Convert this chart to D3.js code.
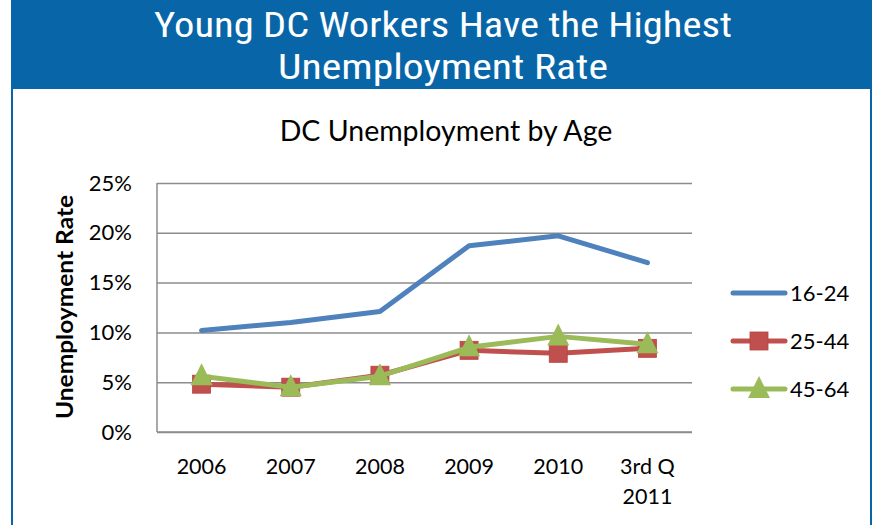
<!DOCTYPE html>
<html>
<head>
<meta charset="utf-8">
<script src="https://cdn.jsdelivr.net/npm/d3@7"></script>
<style>
  html, body { margin: 0; padding: 0; background: #fff; }
  svg { display: block; }
</style>
</head>
<body>
<svg id="chart" width="872" height="525"></svg>
<script>
// Categories (x axis) — the last one wraps onto two lines
const categories = ["2006", "2007", "2008", "2009", "2010", "3rd Q\n2011"];

// Unemployment rate by age group, in percent
const youth = [10.2, 11.0, 12.1, 18.7, 19.7, 17.0];      // 16-24
const primeAge = [4.8, 4.5, 5.7, 8.2, 7.9, 8.4];          // 25-44
const olderWorkers = [5.6, 4.5, 5.6, 8.5, 9.6, 8.8];      // 45-64

const seriesNames = ["16-24", "25-44", "45-64"];
const yTicks = [0, 5, 10, 15, 20, 25];

const series = [
  { name: seriesNames[0], values: youth, color: "#4F81BD", marker: "none" },
  { name: seriesNames[1], values: primeAge, color: "#C0504D", marker: "square" },
  { name: seriesNames[2], values: olderWorkers, color: "#9BBB59", marker: "triangle" }
];

const svg = d3.select("#chart");
const headerBlue = "#0866A8";
const textFont = "Lato, 'Open Sans', sans-serif";

// Framed panel with a blue banner on top
svg.append("rect").attr("x", 11).attr("y", 0).attr("width", 861).attr("height", 89).attr("fill", headerBlue);
svg.append("rect").attr("x", 11).attr("y", 89).attr("width", 2).attr("height", 436).attr("fill", headerBlue);
svg.append("rect").attr("x", 870).attr("y", 89).attr("width", 2).attr("height", 436).attr("fill", headerBlue);

const bannerFont = "'Liberation Sans Narrow', 'Arial Narrow', 'Roboto Condensed', Roboto, sans-serif";
const banner = [
  { text: "Young DC Workers Have the Highest", y: 37, len: 578 },
  { text: "Unemployment Rate", y: 79, len: 330 }
];
svg.selectAll("text.banner").data(banner).join("text")
  .attr("class", "banner")
  .attr("x", 443).attr("y", d => d.y)
  .attr("text-anchor", "middle")
  .attr("font-family", bannerFont)
  .attr("font-size", 35)
  .attr("fill", "#fff")
  .attr("textLength", d => d.len)
  .attr("lengthAdjust", "spacingAndGlyphs")
  .text(d => d.text);

// Chart title
svg.append("text")
  .attr("x", 446).attr("y", 141)
  .attr("text-anchor", "middle")
  .attr("font-family", textFont)
  .attr("font-size", 28.5)
  .attr("fill", "#000")
  .text("DC Unemployment by Age");

// Plot area
const plot = { left: 157, right: 692, top: 183, bottom: 432 };

const x = d3.scaleBand()
  .domain(categories)
  .range([plot.left, plot.right])
  .paddingInner(0).paddingOuter(0);

const y = d3.scaleLinear()
  .domain([0, 25])
  .range([plot.bottom, plot.top]);

const g = svg.append("g");

// Horizontal gridlines
g.append("g")
  .attr("transform", `translate(${plot.left},0)`)
  .call(d3.axisLeft(y).tickValues(yTicks).tickSize(-(plot.right - plot.left)).tickFormat(""))
  .call(a => a.select(".domain").remove())
  .call(a => a.selectAll(".tick line").attr("stroke", "#8c8c8c").attr("stroke-width", 1.5));

// Y axis tick labels
g.append("g")
  .attr("transform", `translate(${plot.left},0)`)
  .call(d3.axisLeft(y).tickValues(yTicks).tickSize(0).tickPadding(25).tickFormat(d => d + "%"))
  .call(a => a.select(".domain").remove())
  .call(a => a.selectAll(".tick text")
    .attr("font-family", textFont).attr("font-size", 22).attr("fill", "#000"));

// Axis lines (left and bottom)
g.append("line")
  .attr("x1", plot.left).attr("x2", plot.left)
  .attr("y1", plot.top).attr("y2", plot.bottom)
  .attr("stroke", "#8c8c8c").attr("stroke-width", 1.5);
g.append("line")
  .attr("x1", plot.left).attr("x2", plot.right)
  .attr("y1", plot.bottom).attr("y2", plot.bottom)
  .attr("stroke", "#8c8c8c").attr("stroke-width", 1.5);

// X axis labels
const xAxis = g.append("g")
  .attr("transform", `translate(0,${plot.bottom})`)
  .call(d3.axisBottom(x).tickSize(0).tickPadding(0).tickFormat(""));
xAxis.select(".domain").remove();
xAxis.selectAll(".tick").each(function(d) {
  const lines = d.split("\n");
  const t = d3.select(this).append("text")
    .attr("text-anchor", "middle")
    .attr("font-family", textFont)
    .attr("font-size", 21.5)
    .attr("fill", "#000");
  lines.forEach((ln, i) => {
    t.append("tspan").attr("x", 0).attr("y", 42 + i * 30).text(ln);
  });
});

// Y axis title
svg.append("text")
  .attr("transform", "translate(73,307) rotate(-90)")
  .attr("text-anchor", "middle")
  .attr("font-family", textFont)
  .attr("font-weight", "bold")
  .attr("font-size", 23)
  .attr("fill", "#000")
  .attr("textLength", 224)
  .attr("lengthAdjust", "spacingAndGlyphs")
  .text("Unemployment Rate");

const cx = i => x(categories[i]) + x.bandwidth() / 2;
const line = d3.line()
  .x((d, i) => cx(i))
  .y(d => y(d));

function drawMarker(sel, type, color) {
  if (type === "square") {
    sel.append("rect")
      .attr("x", -9).attr("y", -9).attr("width", 18).attr("height", 18)
      .attr("fill", color).attr("stroke", "#b8423f").attr("stroke-width", 0.8);
  } else if (type === "triangle") {
    sel.append("path")
      .attr("d", "M0,-13L11,9L-11,9Z")
      .attr("fill", color);
  }
}

// Series lines and markers
series.forEach(s => {
  const sg = g.append("g");
  sg.append("path")
    .datum(s.values)
    .attr("d", line)
    .attr("fill", "none")
    .attr("stroke", s.color)
    .attr("stroke-width", 5)
    .attr("stroke-linecap", "round")
    .attr("stroke-linejoin", "round");
  if (s.marker !== "none") {
    sg.selectAll("g.mk").data(s.values).join("g")
      .attr("class", "mk")
      .attr("transform", (d, i) => `translate(${cx(i)},${y(d)})`)
      .each(function() { drawMarker(d3.select(this), s.marker, s.color); });
  }
});

// Legend
const legend = svg.append("g");
const legendY = d3.scalePoint().domain(seriesNames).range([293, 389]);
series.forEach(s => {
  const ly = legendY(s.name);
  legend.append("line")
    .attr("x1", 733).attr("x2", 785).attr("y1", ly).attr("y2", ly)
    .attr("stroke", s.color).attr("stroke-width", 5).attr("stroke-linecap", "round");
  const m = legend.append("g").attr("transform", `translate(759,${ly})`);
  drawMarker(m, s.marker, s.color);
  legend.append("text")
    .attr("x", 790).attr("y", ly + 8)
    .attr("font-family", textFont)
    .attr("font-size", 22)
    .attr("fill", "#000")
    .text(s.name);
});
</script>
</body>
</html>
